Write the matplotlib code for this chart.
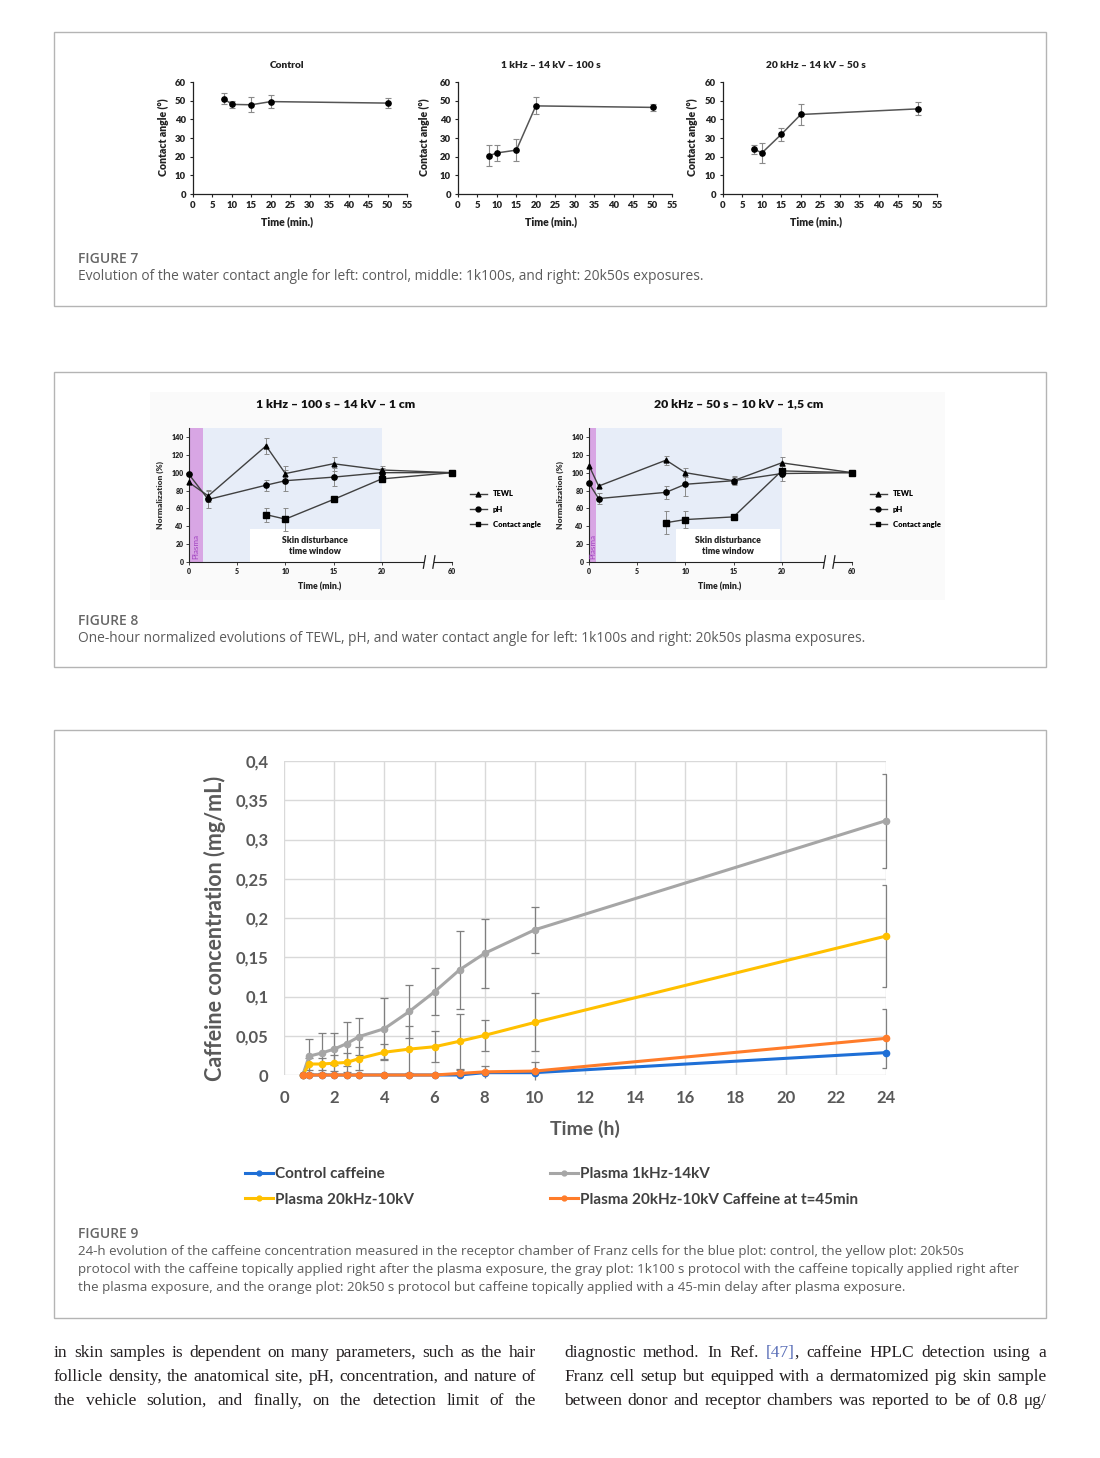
import numpy as np
import matplotlib
matplotlib.use('Agg')
import matplotlib.pyplot as plt
from matplotlib.patches import Rectangle
from matplotlib.lines import Line2D

W, H = 1100, 1458
fig = plt.figure(figsize=(11, 14.58), dpi=100)
fig.patch.set_facecolor('white')

CH = 'Lato'

# ---------------- DATA ----------------
# Figure 7
f7_time = [8, 10, 15, 20, 50]
f7_control = [51, 48, 47.8, 49.5, 48.7]
f7_control_err = [3, 2, 4, 3.5, 2.5]
f7_1k = [20.5, 22, 23.5, 47.2, 46.4]
f7_1k_err = [5.5, 4.5, 6, 4.5, 1.8]
f7_20k = [24, 22, 32, 42.6, 45.6]
f7_20k_err = [2.5, 5.2, 3.5, 5.8, 3.5]
f7_titles = ['Control', '1 kHz – 14 kV – 100 s', '20 kHz – 14 kV – 50 s']
f7_xticks = [0, 5, 10, 15, 20, 25, 30, 35, 40, 45, 50, 55]
f7_yticks = [0, 10, 20, 30, 40, 50, 60]

# Figure 8
f8_time_1k = [0, 2, 8, 10, 15, 20, 60]
f8_tewl_1k = [89, 74, 130, 99, 110, 103, 100]
f8_tewl_1k_err = [0, 7, 9, 9, 8, 5, 0]
f8_ph_1k = [98, 70, 86, 91, 95, 100, 100]
f8_ph_1k_err = [0, 10, 6, 12, 10, 5, 0]
f8_time_20k = [0, 1, 8, 10, 15, 20, 60]
f8_tewl_20k = [108, 85, 114, 100, 91, 111, 100]
f8_tewl_20k_err = [0, 0, 5, 5, 4, 6, 0]
f8_ph_20k = [88, 71, 78, 87, 91, 99, 100]
f8_ph_20k_err = [0, 6, 7, 13, 5, 8, 0]
f8_time_ca = [8, 10, 15, 20, 60]
f8_ca_1k = [53, 48, 70, 93, 100]
f8_ca_1k_err = [8, 13, 0, 0, 0]
f8_ca_20k = [44, 47.5, 50.5, 102, 100]
f8_ca_20k_err = [13, 9.5, 0, 5, 0]
f8_titles = ['1 kHz – 100 s – 14 kV – 1 cm', '20 kHz – 50 s – 10 kV – 1,5 cm']
f8_xticks = [0, 5, 10, 15, 20, 60]
f8_yticks = [0, 20, 40, 60, 80, 100, 120, 140]
f8_labels = ['TEWL', 'pH', 'Contact angle']

# Figure 9
f9_time = [0.75, 1, 1.5, 2, 2.5, 3, 4, 5, 6, 7, 8, 10, 24]
f9_control = [0, 0, 0, 0, 0, 0, 0, 0, 0, 0, 0.003, 0.003, 0.0285]
f9_1k = [0, 0.024, 0.028, 0.033, 0.040, 0.049, 0.059, 0.081, 0.106, 0.134, 0.155, 0.185, 0.324]
f9_1k_err = [0, 0.022, 0.025, 0.02, 0.028, 0.024, 0.039, 0.034, 0.03, 0.05, 0.044, 0.029, 0.06]
f9_20k = [0, 0.014, 0.014, 0.015, 0.016, 0.021, 0.029, 0.033, 0.036, 0.043, 0.0505, 0.067, 0.177]
f9_20k_err = [0, 0.008, 0.008, 0.01, 0.012, 0.015, 0.01, 0.03, 0.02, 0.035, 0.02, 0.037, 0.065]
f9_20k45 = [0, 0, 0, 0, 0, 0, 0, 0, 0, 0.002, 0.004, 0.005, 0.0467]
f9_20k45_err = [0, 0, 0, 0, 0, 0, 0, 0, 0, 0.005, 0.008, 0.012, 0.038]
f9_labels = ['Control caffeine', 'Plasma 20kHz-10kV', 'Plasma 1kHz-14kV',
             'Plasma 20kHz-10kV Caffeine at t=45min']
f9_xticks = [0, 2, 4, 6, 8, 10, 12, 14, 16, 18, 20, 22, 24]
f9_yticks = [0, 0.05, 0.1, 0.15, 0.2, 0.25, 0.3, 0.35, 0.4]
f9_yticklabels = ['0', '0,05', '0,1', '0,15', '0,2', '0,25', '0,3', '0,35', '0,4']

captions = {
    7: ["Evolution of the water contact angle for left: control, middle: 1k100s, and right: 20k50s exposures."],
    8: ["One-hour normalized evolutions of TEWL, pH, and water contact angle for left: 1k100s and right: 20k50s plasma exposures."],
    9: ["24-h evolution of the caffeine concentration measured in the receptor chamber of Franz cells for the blue plot: control, the yellow plot: 20k50s",
        "protocol with the caffeine topically applied right after the plasma exposure, the gray plot: 1k100 s protocol with the caffeine topically applied right after",
        "the plasma exposure, and the orange plot: 20k50 s protocol but caffeine topically applied with a 45-min delay after plasma exposure."],
}


# ---------------- helpers ----------------
def rect(l, t, r, b):
    return [l / W, 1 - b / H, (r - l) / W, (b - t) / H]


def ftext(x, y, s, **kw):
    return fig.text(x / W, 1 - y / H, s, **kw)


def box(l, t, r, b):
    fig.patches.append(Rectangle((l / W, 1 - b / H), (r - l) / W, (b - t) / H,
                                 transform=fig.transFigure, fill=False,
                                 edgecolor='#b4b4b4', lw=1.0, zorder=-5))


CAPC = '#5b5b5b'


def caption(num, ytop, lines, fs):
    ftext(78, ytop, f'FIGURE {num}', fontsize=10, family='Open Sans', color='#666666',
          va='center', fontweight='semibold')
    for i, ln in enumerate(lines):
        ftext(78, ytop + 18 * (i + 1), ln, fontsize=fs, family='Open Sans', color=CAPC,
              va='center')


# ---------------- FIGURE 7 ----------------
box(54, 32, 1046, 306)
f7_series = [(f7_control, f7_control_err), (f7_1k, f7_1k_err), (f7_20k, f7_20k_err)]
f7_lefts = [193, 458, 723]
f7_cx = [287, 551, 816]
f7_ylx = [163, 424, 692]
for i in range(3):
    l = f7_lefts[i]
    ax = fig.add_axes(rect(l, 82, l + 214, 194))
    y, e = f7_series[i]
    ax.errorbar(f7_time, y, yerr=e, fmt='none', ecolor='#8a8a8a', elinewidth=0.8,
                capsize=2, capthick=0.8, zorder=2)
    ax.plot(f7_time, y, color='#555555', lw=1.1, marker='o', ms=3.8,
            mfc='black', mec='black', zorder=3, clip_on=False)
    ax.set_xlim(0, 55)
    ax.set_ylim(0, 60)
    ax.set_xticks(f7_xticks)
    ax.set_yticks(f7_yticks)
    for s in ['top', 'right']:
        ax.spines[s].set_visible(False)
    for s in ['left', 'bottom']:
        ax.spines[s].set_linewidth(0.9)
        ax.spines[s].set_color('#222222')
    ax.tick_params(length=2.5, width=0.8, labelsize=6.8, pad=2.5, colors='#222222')
    for lab in ax.get_xticklabels() + ax.get_yticklabels():
        lab.set_fontweight('heavy')
        lab.set_family(CH)
    ftext(f7_cx[i], 65, f7_titles[i], fontsize=7.3, fontweight='heavy', family=CH,
          ha='center', va='center', color='#222222')
    ftext(f7_cx[i], 222, 'Time (min.)', fontsize=7.6, fontweight='heavy', family=CH,
          ha='center', va='center', color='#222222')
    ftext(f7_ylx[i], 137, 'Contact angle (°)', fontsize=7.6, fontweight='heavy', family=CH,
          ha='center', va='center', rotation=90, color='#222222')
caption(7, 259, captions[7], 9.95)

# ---------------- FIGURE 8 ----------------
box(54, 372, 1046, 667)
fig.patches.append(Rectangle((150 / W, 1 - 600 / H), 795 / W, 208 / H,
                             transform=fig.transFigure, facecolor='#fafafa',
                             edgecolor='none', zorder=-5))
K = 7.3 / 40.0


def fwd(x):
    x = np.asarray(x, dtype=float)
    return np.where(x <= 20, x, 20 + (x - 20) * K)


def inv(y):
    y = np.asarray(y, dtype=float)
    return np.where(y <= 20, y, 20 + (y - 20) / K)


def err_only(ax, t, y, e):
    t = np.asarray(t); y = np.asarray(y); e = np.asarray(e)
    m = e > 0
    ax.errorbar(t[m], y[m], yerr=e[m], fmt='none', ecolor='#8a8a8a', elinewidth=0.7,
                capsize=1.8, capthick=0.7, zorder=2)


f8_panels = [
    dict(left=189, tcx=336, ylx=160, t=f8_time_1k, tewl=f8_tewl_1k, tewle=f8_tewl_1k_err,
         ph=f8_ph_1k, phe=f8_ph_1k_err, ca=f8_ca_1k, cae=f8_ca_1k_err, pl=1.45, bs=6.3, lx=470),
    dict(left=589, tcx=739, ylx=560, t=f8_time_20k, tewl=f8_tewl_20k, tewle=f8_tewl_20k_err,
         ph=f8_ph_20k, phe=f8_ph_20k_err, ca=f8_ca_20k, cae=f8_ca_20k_err, pl=0.75, bs=9.0, lx=870),
]
LC = '#404040'
for i, p in enumerate(f8_panels):
    l = p['left']
    ax = fig.add_axes(rect(l, 428, l + 263, 562))
    ax.set_xscale('function', functions=(fwd, inv))
    ax.set_xlim(0, 60)
    ax.set_ylim(0, 150)
    ax.set_facecolor('none')
    ax.axvspan(0, p['pl'], color='#d8a6e4', zorder=0, lw=0)
    ax.axvspan(p['pl'], 20, color='#e7edf8', zorder=0, lw=0)
    ax.add_patch(Rectangle((p['bs'], 0), 19.8 - p['bs'], 37, facecolor='white',
                           edgecolor='none', zorder=0.5))
    ax.text((p['bs'] + 19.8) / 2, 18, 'Skin disturbance\ntime window', ha='center',
            va='center', fontsize=6.3, fontweight='heavy', family=CH, color='#222222',
            linespacing=1.3)
    ax.text(p['pl'] / 2, 3, 'Plasma', rotation=90, ha='center', va='bottom', fontsize=5.8,
            color='#a040c0', family=CH)
    err_only(ax, p['t'], p['tewl'], p['tewle'])
    err_only(ax, p['t'], p['ph'], p['phe'])
    err_only(ax, f8_time_ca, p['ca'], p['cae'])
    ax.plot(p['t'], p['tewl'], color=LC, lw=1.0, marker='^', ms=3.5, mfc='black',
            mec='black', zorder=3, clip_on=False)
    ax.plot(p['t'], p['ph'], color=LC, lw=1.0, marker='o', ms=3.8, mfc='black',
            mec='black', zorder=3, clip_on=False)
    ax.plot(f8_time_ca, p['ca'], color=LC, lw=1.0, marker='s', ms=4, mfc='black',
            mec='black', zorder=3, clip_on=False)
    ax.set_xticks(f8_xticks)
    ax.set_xticklabels([str(v) for v in f8_xticks])
    ax.set_yticks(f8_yticks)
    ax.minorticks_off()
    for s in ['top', 'right']:
        ax.spines[s].set_visible(False)
    for s in ['left', 'bottom']:
        ax.spines[s].set_linewidth(0.8)
        ax.spines[s].set_color('#222222')
    ax.tick_params(length=2, width=0.6, labelsize=5, pad=2, colors='#222222')
    for lab in ax.get_xticklabels() + ax.get_yticklabels():
        lab.set_fontweight('heavy')
        lab.set_family(CH)
    # axis break
    ax.add_patch(Rectangle((44, -2), 6, 4, facecolor='white', edgecolor='none',
                           zorder=4, clip_on=False))
    for bx in (44.3, 49.7):
        ax.plot([bx - 0.6, bx + 0.6], [-7, 7], color='#222222', lw=0.9, zorder=5,
                clip_on=False)
    ftext(p['tcx'], 404, f8_titles[i], fontsize=8.8, fontweight='heavy', family=CH,
          ha='center', va='center', color='#111111')
    ftext(l + 131, 587, 'Time (min.)', fontsize=6.2, fontweight='heavy', family=CH,
          ha='center', va='center', color='#222222')
    ftext(p['ylx'], 495, 'Normalization (%)', fontsize=6, fontweight='heavy', family=CH,
          ha='center', va='center', rotation=90, color='#333333')
    handles = [Line2D([], [], color=LC, lw=1, marker=m, ms=3.5, mfc='black', mec='black')
               for m in ['^', 'o', 's']]
    leg = fig.legend(handles, f8_labels, loc='center left',
                     bbox_to_anchor=(p['lx'] / W, 1 - 509 / H), frameon=False,
                     prop=dict(family=CH, weight='heavy', size=5.5), handlelength=2.2,
                     labelspacing=1.05, handletextpad=0.8, borderpad=0, borderaxespad=0)
caption(8, 621, captions[8], 9.95)

# ---------------- FIGURE 9 ----------------
box(54, 730, 1046, 1318)
ax = fig.add_axes(rect(284, 761, 886, 1075))
ax.set_xlim(0, 24)
ax.set_ylim(0, 0.4)
ax.set_xticks(f9_xticks)
ax.set_yticks(f9_yticks)
ax.set_yticklabels(f9_yticklabels)
ax.grid(True, color='#d9d9d9', lw=1.0)
ax.set_axisbelow(True)
for s in ax.spines.values():
    s.set_visible(False)
ax.tick_params(length=0, labelsize=12, pad=11, labelcolor='#595959')
for lab in ax.get_xticklabels() + ax.get_yticklabels():
    lab.set_fontweight('bold')
    lab.set_family(CH)

C_BLUE, C_GRAY, C_YEL, C_ORA = '#1f6fd6', '#a6a6a6', '#ffc000', '#ff7c2a'
EC = '#7f7f7f'
for y, e in [(f9_1k, f9_1k_err), (f9_20k, f9_20k_err), (f9_20k45, f9_20k45_err)]:
    t = np.asarray(f9_time); yy = np.asarray(y); ee = np.asarray(e)
    m = ee > 0
    eb = ax.errorbar(t[m], yy[m], yerr=ee[m], fmt='none', ecolor=EC, elinewidth=0.9,
                     capsize=3, capthick=0.9, zorder=2)
    for bc in eb[2]:
        bc.set_clip_on(False)
lines = {}
lines['gray'], = ax.plot(f9_time, f9_1k, color=C_GRAY, lw=2.2, marker='o', ms=4.5, zorder=3)
lines['yel'], = ax.plot(f9_time, f9_20k, color=C_YEL, lw=2.2, marker='o', ms=4.5, zorder=3)
lines['blue'], = ax.plot(f9_time, f9_control, color=C_BLUE, lw=2.2, marker='o', ms=4.5, zorder=3)
lines['ora'], = ax.plot(f9_time, f9_20k45, color=C_ORA, lw=2.2, marker='o', ms=4.5, zorder=4)
for ln in lines.values():
    ln.set_clip_on(False)

ftext(215, 928, 'Caffeine concentration (mg/mL)', fontsize=15.5, fontweight='bold',
      family=CH, color='#595959', rotation=90, ha='center', va='center')
ftext(585, 1129, 'Time (h)', fontsize=14, fontweight='bold', family=CH, color='#595959',
      ha='center', va='center')

legprop = dict(family=CH, weight='bold', size=11)
for hs, labs, lx in [([lines['blue'], lines['yel']], f9_labels[:2], 245),
                     ([lines['gray'], lines['ora']], f9_labels[2:], 550)]:
    hh = [Line2D([], [], color=h.get_color(), lw=2.2, marker='o', ms=3.5) for h in hs]
    lg = fig.legend(hh, labs, loc='center left', bbox_to_anchor=(lx / W, 1 - 1187 / H),
                    frameon=False, prop=legprop, handlelength=1.8, handletextpad=0.15,
                    labelspacing=0.75, borderpad=0, borderaxespad=0, labelcolor='#404040')
caption(9, 1234, captions[9], 9.65)

# ---------------- BODY TEXT (justified) ----------------
renderer = fig.canvas.get_renderer()
BODY_FS = 12.55
BODY_C = '#231f20'
REF_C = '#5a6fb8'


def justify(words, x0, x1, y):
    items = []
    for word in words:
        segs = []
        w = 0
        for s, c in word:
            t = fig.text(0, 0, s, fontsize=BODY_FS, family='Liberation Serif', color=c,
                         va='baseline')
            bw = t.get_window_extent(renderer).width
            segs.append((t, bw))
            w += bw
        items.append((segs, w))
    total = sum(w for _, w in items)
    gap = max((x1 - x0 - total) / (len(items) - 1), 2.5)
    x = x0
    for segs, w in items:
        xx = x
        for t, sw in segs:
            t.set_position((xx / W, 1 - y / H))
            xx += sw
        x += w + gap


def plain(line):
    return [[(w, BODY_C)] for w in line.split()]


left_lines = ["in skin samples is dependent on many parameters, such as the hair",
              "follicle density, the anatomical site, pH, concentration, and nature of",
              "the vehicle solution, and finally, on the detection limit of the"]
r1 = plain("diagnostic method. In Ref.") + [[("[47]", REF_C), (",", BODY_C)]] + \
    plain("caffeine HPLC detection using a")
right_lines = [r1,
               plain("Franz cell setup but equipped with a dermatomized pig skin sample"),
               plain("between donor and receptor chambers was reported to be of 0.8 μg/")]
for i, ln in enumerate(left_lines):
    justify(plain(ln), 54, 536, 1357 + 24 * i)
for i, ln in enumerate(right_lines):
    justify(ln, 564, 1046, 1357 + 24 * i)

fig.savefig('out.png', dpi=100, facecolor='white')
